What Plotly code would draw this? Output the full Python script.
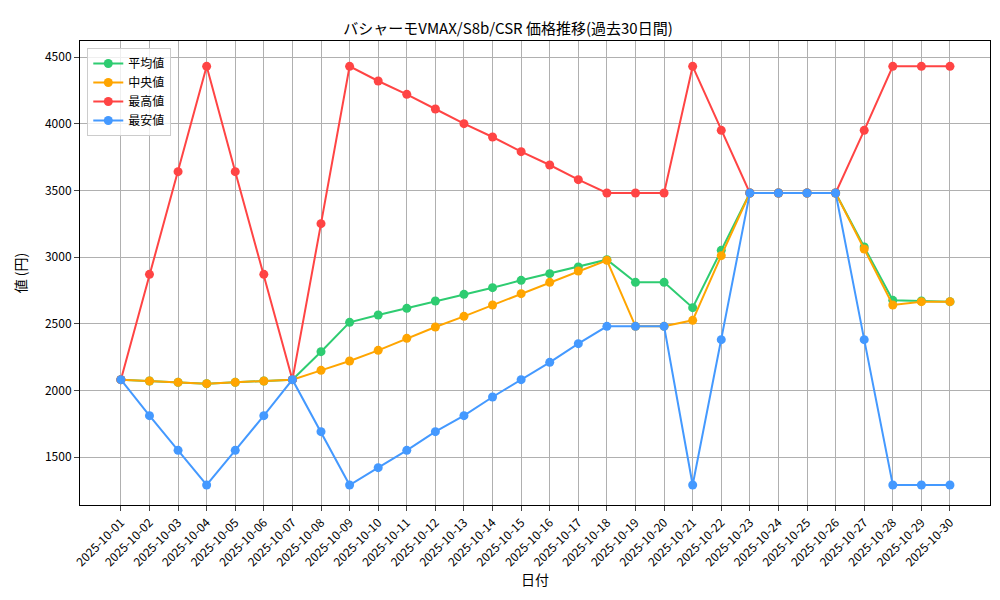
import plotly.graph_objects as go

dates = [f"2025-10-{d:02d}" for d in range(1, 31)]

avg_price = [2080, 2070, 2060, 2050, 2060, 2070, 2080, 2290, 2510, 2565,
             2615, 2670, 2720, 2770, 2825, 2875, 2925, 2980, 2810, 2810,
             2620, 3050, 3480, 3480, 3480, 3480, 3075, 2675, 2670, 2665]
median_price = [2080, 2070, 2060, 2050, 2060, 2070, 2080, 2150, 2220, 2300,
                2390, 2475, 2555, 2640, 2725, 2810, 2895, 2975, 2480, 2480,
                2525, 3010, 3480, 3480, 3480, 3480, 3060, 2640, 2665, 2665]
max_price = [2080, 2870, 3640, 4430, 3640, 2870, 2080, 3250, 4430, 4320,
             4220, 4110, 4000, 3900, 3790, 3690, 3580, 3480, 3480, 3480,
             4430, 3950, 3480, 3480, 3480, 3480, 3950, 4430, 4430, 4430]
min_price = [2080, 1810, 1550, 1290, 1550, 1810, 2080, 1690, 1290, 1420,
             1550, 1690, 1810, 1950, 2080, 2210, 2350, 2480, 2480, 2480,
             1290, 2380, 3480, 3480, 3480, 3480, 2380, 1290, 1290, 1290]

series = [
    ("平均値", avg_price, "#2ecc71"),
    ("中央値", median_price, "#ffa500"),
    ("最高値", max_price, "#ff4444"),
    ("最安値", min_price, "#4499ff"),
]

fig = go.Figure()
for name, vals, color in series:
    fig.add_trace(go.Scatter(x=dates, y=vals, name=name, mode="lines+markers",
                             line=dict(color=color, width=2),
                             marker=dict(color=color, size=9)))

fig.update_layout(
    width=1000, height=600,
    plot_bgcolor="white", paper_bgcolor="white",
    font=dict(family="Noto Sans CJK JP", size=12, color="black"),
    title=dict(text="バシャーモVMAX/S8b/CSR 価格推移(過去30日間)", x=0.5, xanchor="center",
               y=0.975, font=dict(size=15)),
    margin=dict(l=72, r=18, t=33, b=103),
    legend=dict(x=0.008, y=0.985, xanchor="left", yanchor="top",
                bordercolor="#cccccc", borderwidth=1, bgcolor="rgba(255,255,255,0.8)"),
    showlegend=True,
)
fig.update_xaxes(type="category", title_text="日付", tickangle=-45, range=[-1.43, 30.4],
                 showgrid=True, gridcolor="#b0b0b0", showline=True, linecolor="black",
                 mirror=True, ticks="outside", title_standoff=4)
fig.update_yaxes(title_text="値 (円)", range=[1140, 4620], dtick=500,
                 showgrid=True, gridcolor="#b0b0b0", showline=True, linecolor="black",
                 mirror=True, ticks="outside", zeroline=False)

fig.write_html("out.html")
